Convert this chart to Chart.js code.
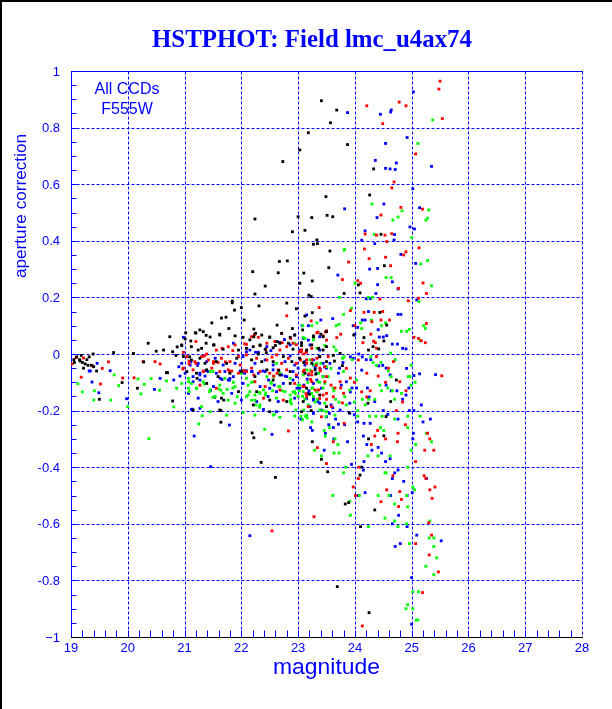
<!DOCTYPE html>
<html>
<head>
<meta charset="utf-8">
<style>
html,body{margin:0;padding:0;background:#fff;}
#wrap{width:612px;height:709px;position:relative;}
canvas{display:block;}
</style>
<script src="https://cdn.jsdelivr.net/npm/chart.js@4.4.1/dist/chart.umd.min.js"></script>
</head>
<body>
<div id="wrap"><canvas id="c" width="612" height="709"></canvas></div>
<script>
// ---------------- data ----------------
const chartTitle = "HSTPHOT: Field lmc_u4ax74";
const xTitle = "magnitude";
const yTitle = "aperture correction";
const noteLines = ["All CCDs", "F555W"];
const xTicks = [19, 20, 21, 22, 23, 24, 25, 26, 27, 28];
const yTicks = [1, 0.8, 0.6, 0.4, 0.2, 0, -0.2, -0.4, -0.6, -0.8, -1];
const yTickLabels = ["1", "0.8", "0.6", "0.4", "0.2", "0", "-0.2", "-0.4", "-0.6", "-0.8", "\u22121"];
const xMinorStep = 0.2;
const yMinorStep = 0.05;

const blackPts = [
[23.41,0.895],[23.68,0.862],[23.57,0.817],[23.18,0.782],[23.03,0.721],[22.73,0.68],[23.87,0.74],[24.33,0.654],[23.49,0.556],[24.26,0.562],[22.24,0.477],[23.0,0.485],[23.24,0.482],[23.51,0.49],[23.61,0.485],[22.90,0.432],[23.12,0.437],[23.33,0.403],[23.27,0.388],[23.34,0.39],[24.46,0.423],
[22.81,0.329],[22.67,0.327],[22.20,0.291],[22.65,0.287],[23.10,0.286],[22.42,0.24],[23.03,0.25],[22.24,0.212],[23.19,0.208],[21.84,0.181],[22.0,0.164],[22.31,0.17],[22.80,0.18],[22.97,0.16],
[21.88,0.155],[21.65,0.127],[21.73,0.13],[21.48,0.11],[22.22,0.088],[22.25,0.073],[22.63,0.102],[23.12,0.134],[21.20,0.074],[21.27,0.085],[21.38,0.066],[21.62,0.07],[20.74,0.061],[21.01,0.053],[21.11,0.046],[21.52,0.032],[20.36,0.038],[20.87,0.025],[20.63,0.014],[20.79,0.008],[20.10,0.002],[19.75,0.005],[19.39,0.0],[19.28,-0.02],[19.25,-0.035],[19.36,-0.04],[19.40,-0.045],[19.32,-0.01],[19.06,-0.03],[22.33,0.03],[22.56,0.022],[22.6,0.03],[22.3,0.0],[22.44,0.005],[21.09,-0.01],[20.68,-0.066],[20.70,-0.066],[21.22,-0.086],[19.50,-0.16],[19.90,-0.101],[20.17,-0.121],[20.79,-0.166],[21.64,-0.241],[21.69,-0.163],[21.64,-0.20],[22.22,-0.296],[22.19,-0.279],[22.66,-0.058],[23.20,-0.142],[22.35,-0.383],[22.60,-0.436],[21.84,0.187],[20.85,-0.005],[20.28,-0.028],[19.16,-0.025],
[23.56,0.364],[23.54,0.305],[23.25,0.258],[24.06,0.244],[24.52,0.312],[23.81,0.214],[24.09,0.216],[23.23,0.203],[23.25,0.146],[23.27,0.064],[23.06,0.03],[24.16,0.058],[24.24,0.014],[24.42,0.018],[24.44,0.147],[24.32,0.026],[24.51,0.046],[24.56,0.102],[23.62,-0.005],[23.08,0.085],[23.4,0.07],[23.98,0.067],[23.78,-0.041],[24.73,-0.092],[24.63,-0.168],[24.23,-0.174],[23.90,-0.207],[23.23,-0.2],[24.55,-0.221],[23.1,-0.03],[23.31,-0.071],[23.64,-0.025],
[23.25,-0.31],[23.41,-0.372],[23.52,-0.416],[24.12,-0.40],[24.09,-0.428],[23.89,-0.525],[23.83,-0.53],[24.35,-0.551],[24.10,-0.61],[23.69,-0.822],[24.25,-0.914],[24.51,-0.289],[24.24,-0.3],
[19.1,-0.01],[19.15,-0.02],[19.2,-0.03],[19.3,-0.04],[19.45,-0.06],[19.22,-0.05],[19.18,-0.005],[19.05,-0.02],[20.5,0.01],[20.95,0.03],[21.3,0.02],[21.45,0.06],[21.78,0.09],[22.05,0.12],[22.15,0.05],[22.5,0.06],[22.9,0.09],
[21.02,0.075],[21.19,0.075],[21.33,0.079],[21.62,0.067],[21.89,0.064],[22.03,0.059],[22.22,0.061],[22.36,0.067],[22.50,0.059],[22.71,0.073],[22.86,0.059],[22.94,0.067],[23.27,0.061],[23.44,0.061],[23.50,0.079],
[20.95,0.032],[21.12,0.026],[21.24,0.014],[21.38,0.038],[21.51,0.032],[21.68,0.017],[21.95,0.014],[22.09,0.020],[22.21,0.026],[22.33,0.032],[22.42,0.017],[22.63,0.044],[22.68,0.038],[22.83,0.038],[22.91,0.017],[23.06,0.040],[23.24,0.032],[23.36,0.020],[23.44,0.014],[23.50,0.026],
[20.98,-0.009],[21.12,-0.021],[21.27,-0.015],[21.36,-0.033],[21.56,-0.027],[21.74,-0.033],[21.92,-0.015],[22.18,-0.021],[22.36,-0.027],[22.56,-0.027],[22.74,-0.009],[22.89,-0.027],[23.03,-0.015],[23.24,-0.033],[23.38,-0.009],[23.50,-0.027],
[21.04,-0.062],[21.21,-0.068],[21.39,-0.056],[21.59,-0.080],[21.80,-0.068],[22.00,-0.062],[22.24,-0.080],[22.45,-0.056],[22.68,-0.074],[22.86,-0.062],[23.12,-0.068],[23.30,-0.056],
[21.39,-0.104],[21.95,-0.133],[22.27,-0.133],[22.56,-0.092],[22.86,-0.104],[23.15,-0.121],[23.38,-0.145],
[21.65,-0.156],[22.21,-0.180],[22.50,-0.163],[22.80,-0.168],[23.09,-0.168],[23.50,-0.186],
[21.15,-0.198],[21.62,-0.198],[22.50,-0.204],[23.06,-0.204],
[23.15,0.014],[23.38,-0.010],[23.74,0.002]
];

const redPts = [
[25.50,0.964],[25.48,0.936],[24.21,0.877],[24.78,0.89],[24.90,0.877],[24.49,0.814],[25.54,0.832],[25.07,0.707],[24.69,0.608],[24.65,0.587],[24.46,0.491],[24.81,0.518],[25.19,0.512],[24.18,0.424],[24.38,0.42],[24.53,0.42],[24.65,0.425],[24.56,0.397],[24.17,0.371],[25.13,0.375],
[19.09,-0.013],[19.02,-0.035],[19.22,-0.014],[19.18,-0.082],[19.38,-0.042],[19.55,-0.051],[19.66,-0.028],[19.52,-0.106],[19.91,-0.085],[20.27,-0.027],[20.11,-0.084],[20.48,-0.027],[20.57,-0.035],[20.98,0.006],[21.08,-0.025],[21.08,-0.035],[20.97,-0.053],[21.20,-0.033],[21.35,-0.007],[21.51,-0.027],[21.66,0.02],[21.59,-0.03],[21.72,-0.028],[21.85,0.012],[21.79,-0.062],[21.98,-0.039],[22.03,-0.059],[22.09,0.034],[22.23,0.069],[22.43,0.016],[22.54,-0.011],[22.63,-0.068],[22.71,0.073],[22.72,0.04],[22.87,0.055],[22.97,0.033],[23.02,0.008],[23.04,-0.021],[23.14,0.006],[22.83,-0.272],[22.80,0.135],[22.04,-0.06],[22.22,-0.074],[22.57,-0.078],[21.83,-0.06],[21.33,-0.06],
[24.90,0.361],[24.86,0.35],[24.25,0.337],[23.89,0.325],[24.54,0.342],[24.63,0.312],[23.78,0.263],[24.05,0.259],[24.1,0.25],[24.77,0.232],[24.44,0.194],[25.20,0.251],[25.26,0.214],[25.12,0.197],[24.94,0.188],[23.92,0.153],[24.16,0.147],[24.34,0.147],[24.49,0.15],[24.30,0.114],[24.46,0.12],[24.61,0.12],[25.26,0.108],[23.37,0.164],[23.23,0.117],[23.35,0.077],[23.48,0.078],[23.68,0.058],[23.75,0.07],[24.0,0.1],[24.14,0.04],[24.28,0.07],[24.36,0.04],[25.04,0.059],[25.12,0.055],[25.17,0.047],[25.24,0.04],[23.05,0.007],[23.1,0.0],[23.25,-0.02],[23.32,-0.04],[23.39,-0.06],[23.11,-0.057],[23.19,-0.07],[23.22,-0.09],[23.11,-0.115],[23.14,-0.14],[23.47,-0.098],[23.58,-0.11],[23.65,-0.12],[23.75,-0.12],[23.44,-0.145],[23.50,-0.16],[23.78,-0.173],[23.92,-0.085],[23.99,-0.10],[24.12,-0.134],[24.21,-0.152],[24.27,-0.13],[24.41,-0.078],[24.59,-0.05],[24.54,-0.1],[24.84,-0.17],[24.9,-0.13],[24.73,-0.2],[25.53,-0.077],[24.38,0.02],[24.33,0.045],
[23.34,-0.331],[23.5,-0.387],[23.62,-0.31],[23.81,-0.245],[24.35,-0.29],[24.29,-0.32],[24.07,-0.4],[24.06,-0.44],[23.97,-0.47],[24.01,-0.5],[24.46,-0.522],[24.56,-0.48],[24.79,-0.486],[24.82,-0.514],[24.77,-0.539],[24.89,-0.25],[24.76,-0.28],[24.75,-0.31],[24.54,-0.3],[24.67,-0.43],[25.23,-0.34],[25.39,-0.34],[25.28,-0.28],[25.32,-0.3],[25.22,-0.43],[25.25,-0.44],[25.32,-0.48],[25.36,-0.51],[25.41,-0.47],[25.30,-0.596],[25.35,-0.64],[25.07,-0.67],[25.31,-0.71],[25.47,-0.77],[25.19,-0.843],[24.13,-0.961],[23.28,-0.575],[25.07,-0.38],[24.4,-0.27],
[22.54,-0.625],
[22.18,0.061],[22.30,0.059],[23.33,0.075],[23.44,0.064],[23.50,0.082],
[21.20,0.044],[21.39,0.000],[21.56,0.014],[21.77,0.026],[21.89,0.032],[22.06,0.036],[22.45,0.038],[22.59,0.044],[22.68,0.014],[22.80,0.026],[22.91,0.038],[23.06,0.014],[23.15,0.008],[23.24,0.020],[23.50,0.049],
[21.04,-0.009],[21.18,-0.027],[21.30,-0.009],[21.42,-0.021],[21.51,-0.033],[21.65,-0.015],[21.80,-0.027],[21.95,-0.009],[22.09,-0.003],[22.27,-0.015],[22.45,-0.021],[22.62,-0.003],[22.71,-0.033],[22.83,-0.015],[22.97,-0.033],[23.15,-0.021],[23.33,-0.015],[23.53,-0.009],
[20.98,-0.050],[21.15,-0.056],[21.33,-0.062],[21.48,-0.050],[21.62,-0.062],[21.77,-0.056],[21.95,-0.068],[22.09,-0.062],[22.18,-0.050],[22.33,-0.062],[22.50,-0.068],[22.65,-0.056],[22.80,-0.056],[22.97,-0.074],[23.09,-0.062],[23.24,-0.062],[23.38,-0.050],[23.50,-0.080],
[21.27,-0.110],[21.56,-0.121],[22.24,-0.098],[22.42,-0.115],[22.68,-0.127],[22.94,-0.104],[23.09,-0.115],[23.24,-0.098],[23.36,-0.127],[23.50,-0.139],
[22.39,-0.156],[22.74,-0.163],[23.15,-0.150],
[23.06,0.014],[23.15,-0.033],[23.24,-0.074],[23.09,-0.115],[23.30,-0.127],[23.38,-0.157],[23.62,-0.151],[23.74,-0.098],[23.85,-0.051],[23.47,-0.045],[23.59,-0.186],[23.80,-0.139],[23.18,-0.186],[23.41,-0.222],
[24.06,-0.021],[24.38,-0.009],[24.68,-0.027],[24.21,-0.068],[24.79,-0.098]
];

const greenPts = [
[25.37,0.827],[25.11,0.744],[24.30,0.53],[24.83,0.506],[24.76,0.484],[24.67,0.473],[25.30,0.509],[25.28,0.48],[25.25,0.473],[24.34,0.423],[25.00,0.411],[23.82,0.37],
[19.12,-0.105],[19.20,-0.134],[19.40,-0.163],[19.41,-0.13],[19.70,-0.163],[19.76,-0.074],[19.84,-0.112],[20.00,-0.186],[20.23,-0.141],[20.29,-0.107],[20.18,-0.088],[20.37,-0.299],[20.41,-0.087],[20.56,-0.128],[20.68,-0.095],[20.81,-0.187],[20.86,-0.121],[21.07,-0.098],[21.07,-0.121],[21.08,-0.133],[21.21,-0.121],[21.25,-0.247],[21.31,-0.218],[21.35,-0.106],[21.44,-0.133],[21.50,-0.062],[21.50,-0.153],[21.61,-0.124],[21.64,-0.128],[21.75,-0.125],[21.85,-0.12],[21.86,-0.1],[21.93,-0.151],[22.0,-0.068],[22.12,-0.145],[22.18,-0.1],[22.22,-0.098],[22.24,-0.163],[22.26,-0.18],[22.32,-0.136],[22.39,-0.127],[22.43,-0.138],[22.52,-0.1],[22.57,-0.08],[22.55,-0.13],[22.58,-0.213],[22.66,-0.115],[22.72,-0.13],[22.87,-0.16],[22.88,-0.176],[22.91,-0.134],[22.95,-0.14],[22.96,-0.198],[23.02,-0.13],[23.03,-0.11],[23.08,-0.233],[23.16,-0.226],[22.41,-0.266],[22.32,-0.188],
[23.81,0.367],[25.35,0.241],[25.13,0.185],[25.16,0.318],[25.28,0.33],[24.55,0.27],[24.64,0.27],[23.73,0.2],[24.24,0.2],[24.31,0.2],[24.0,0.25],[23.94,0.161],[23.8,0.14],[23.72,0.105],[23.67,0.1],[24.1,0.11],[24.12,0.09],[24.29,0.12],[24.47,0.1],[24.54,0.11],[24.63,0.003],[24.82,0.08],[24.91,0.08],[24.96,0.087],[25.15,0.047],[25.24,0.09],[25.21,0.1],[23.08,0.1],[23.24,0.1],[23.33,0.11],[23.27,0.05],[23.33,0.02],[23.47,0.03],[23.63,0.025],[23.67,0.013],
[23.21,-0.021],[23.28,-0.039],[23.40,-0.033],[23.50,-0.045],[23.58,-0.051],[23.78,-0.015],[23.81,-0.01],[23.95,-0.02],[24.28,-0.01],[24.32,-0.03],[24.38,-0.04],[24.46,-0.03],[24.71,-0.02],[24.59,-0.06],[24.64,-0.08],[24.99,-0.04],[24.97,-0.08],[25.06,-0.1],[24.99,-0.11],[23.17,-0.1],[23.26,-0.12],[23.38,-0.1],[23.44,-0.12],[23.08,-0.15],[23.12,-0.16],[23.3,-0.17],[23.34,-0.16],[23.44,-0.2],[23.49,-0.22],[23.66,-0.16],[23.72,-0.17],[23.63,-0.13],[23.85,-0.18],[23.99,-0.17],[24.05,-0.2],[24.13,-0.16],[24.24,-0.16],[24.35,-0.16],[24.47,-0.13],[24.58,-0.12],[24.66,-0.13],[24.7,-0.16],[24.37,-0.22],[24.48,-0.22],[24.7,-0.23],[25.15,-0.22],
[23.05,-0.22],[23.13,-0.22],[23.24,-0.24],[23.46,-0.27],[23.55,-0.26],[23.48,-0.29],[23.65,-0.3],[23.7,-0.32],[23.29,-0.34],[23.41,-0.36],[23.63,-0.35],[23.72,-0.35],[23.84,-0.4],[23.8,-0.42],[23.61,-0.5],[23.91,-0.52],[23.92,-0.57],[24.05,-0.22],[24.26,-0.22],[24.45,-0.26],[24.51,-0.27],[24.23,-0.36],[24.41,-0.36],[24.62,-0.36],[24.08,-0.5],[24.41,-0.5],[24.6,-0.5],[24.53,-0.42],[24.55,-0.42],[24.7,-0.53],[24.53,-0.58],[24.7,-0.59],[24.76,-0.61],[24.91,-0.6],[24.24,-0.61],[24.91,-0.5],[24.93,-0.54],[25.02,-0.47],[25.05,-0.48],[24.96,-0.67],[25.31,-0.65],[25.39,-0.65],[25.32,-0.59],[25.39,-0.68],[25.44,-0.72],[25.25,-0.75],[25.39,-0.78],[25.02,-0.84],[25.12,-0.84],[25.02,-0.9],[24.9,-0.9],[25.08,-0.94],[24.93,-0.22],[24.93,-0.26],[24.99,-0.34],[25.07,-0.32],[25.26,-0.28],[25.35,-0.31],[24.93,-0.4],
[24.93,-0.886],[25.11,-0.94],
[23.09,0.059],[23.27,0.059],[22.94,0.038],[23.12,0.055],[22.62,-0.033],[23.33,-0.033],
[21.07,-0.086],[21.45,-0.062],[21.71,-0.086],[22.09,-0.086],[22.45,-0.080],[22.68,-0.068],[22.86,-0.086],[23.15,-0.056],[23.36,-0.068],[23.44,-0.080],
[20.95,-0.104],[21.12,-0.104],[21.21,-0.121],[21.33,-0.098],[21.45,-0.127],[21.62,-0.110],[21.68,-0.139],[21.89,-0.115],[22.12,-0.110],[22.15,-0.133],[22.24,-0.145],[22.33,-0.139],[22.42,-0.145],[22.53,-0.104],[22.68,-0.115],[22.77,-0.133],[22.86,-0.145],[22.94,-0.133],[23.00,-0.110],[23.09,-0.133],[23.24,-0.121],[23.33,-0.133],[23.47,-0.104],
[21.30,-0.186],[21.54,-0.150],[21.77,-0.163],[21.89,-0.174],[22.09,-0.150],[22.18,-0.163],[22.33,-0.180],[22.62,-0.156],[22.86,-0.168],[23.00,-0.150],[23.18,-0.180],[23.27,-0.150],[23.47,-0.174],
[21.45,-0.204],[21.74,-0.216],[22.03,-0.207],[22.24,-0.216],[22.56,-0.216],[22.68,-0.224],[22.94,-0.219],[23.15,-0.216],[23.50,-0.204],
[23.09,-0.074],[23.21,-0.057],[23.35,-0.098],[23.53,-0.080],[23.62,-0.121],[23.82,-0.151],[23.24,-0.139],[23.10,-0.198],[23.38,-0.198],[23.65,-0.216],[23.91,-0.127],[23.80,-0.062],
[24.03,-0.092],[24.44,-0.110],[24.82,-0.139],[24.18,-0.180],[24.94,-0.080]
];

const bluePts = [
[23.87,0.853],[24.45,0.847],[24.64,0.862],[24.63,0.855],[25.03,0.926],[24.92,0.765],[24.54,0.744],[24.36,0.684],[24.54,0.656],[24.73,0.675],[24.62,0.654],[24.71,0.652],[25.35,0.663],[25.02,0.584],[23.82,0.513],[24.51,0.53],[24.39,0.482],[25.14,0.517],[24.97,0.449],[25.05,0.442],[24.18,0.435],[24.70,0.422],[24.69,0.403],[24.12,0.402],[24.35,0.39],
[19.32,-0.06],[19.34,-0.06],[19.37,-0.099],[19.49,-0.137],[19.46,-0.033],[19.69,-0.059],[19.98,-0.158],[20.47,-0.125],[20.57,-0.086],[20.81,-0.092],[20.92,-0.078],[20.90,-0.045],[21.11,-0.027],[21.15,-0.098],[21.14,-0.195],[21.23,-0.04],[21.27,-0.074],[21.38,-0.059],[21.36,-0.078],[21.46,-0.128],[21.53,-0.153],[21.63,-0.086],[21.66,-0.09],[21.79,-0.092],[21.8,-0.086],[22.02,-0.065],[22.09,-0.059],[22.19,-0.062],[22.09,0.008],[22.25,0.006],[22.3,0.006],[22.52,0.012],[22.48,-0.092],[22.58,-0.11],[22.77,-0.078],[22.86,-0.007],[22.97,-0.08],[22.98,-0.121],[23.16,-0.089],[23.09,0.055],[22.76,0.051],[22.67,0.041],[22.54,-0.284],[21.79,-0.251],[21.17,-0.29],[21.46,-0.398],[21.98,-0.06],[22.38,-0.06],
[24.81,0.352],[25.07,0.32],[24.40,0.302],[24.26,0.30],[24.66,0.255],[24.76,0.23],[23.70,0.279],[24.37,0.214],[24.4,0.245],[24.2,0.195],[24.27,0.196],[25.09,0.191],[24.76,0.14],[24.81,0.14],[24.24,0.15],[24.05,0.094],[24.13,0.12],[24.18,0.12],[23.97,0.1],[24.0,0.07],[23.15,0.138],[23.07,0.1],[23.18,0.1],[23.40,0.12],[23.61,0.125],[24.41,0.086],[24.43,0.06],[24.5,0.06],[24.56,0.065],[24.66,0.035],[24.75,0.035],[24.84,0.02],[24.9,0.018],[24.42,-0.042],[24.49,-0.04],[24.55,-0.05],[24.2,-0.02],[24.28,-0.02],[24.07,0.0],[24.13,-0.01],[23.92,-0.01],[23.97,-0.015],[23.73,-0.05],[23.79,-0.03],[23.3,-0.048],[23.47,-0.046],[23.39,-0.055],[23.1,-0.11],[23.19,-0.13],[23.27,-0.157],[23.21,-0.186],[23.58,-0.18],[23.61,-0.19],[23.55,-0.21],[23.76,-0.11],[23.92,-0.134],[23.95,-0.12],[24.03,-0.12],[24.22,-0.12],[24.25,-0.152],[24.55,-0.11],[24.64,-0.13],[24.74,-0.13],[24.95,-0.12],[25.04,-0.076],[25.14,-0.07],[25.42,-0.073],[24.84,-0.16],[24.9,-0.145],[24.96,-0.2],[25.04,-0.2],[25.17,-0.18],[23.91,-0.21],[23.99,-0.215],[23.66,-0.23],[24.5,-0.2],[24.58,-0.213],
[23.05,-0.23],[23.25,-0.27],[23.22,-0.26],[23.62,-0.26],[23.71,-0.248],[23.82,-0.25],[23.46,-0.34],[23.63,-0.3],[23.87,-0.31],[23.94,-0.39],[24.15,-0.41],[24.16,-0.38],[24.05,-0.24],[24.16,-0.245],[24.27,-0.245],[24.15,-0.29],[24.21,-0.32],[24.3,-0.34],[24.41,-0.33],[24.47,-0.35],[24.54,-0.38],[24.62,-0.37],[24.7,-0.42],[24.76,-0.41],[24.66,-0.44],[24.86,-0.45],[24.92,-0.5],[25.01,-0.49],[24.06,-0.5],[24.18,-0.49],[24.63,-0.5],[24.77,-0.57],[24.66,-0.6],[24.92,-0.61],[25.09,-0.64],[24.8,-0.67],[24.71,-0.68],[25.52,-0.66],[25.26,-0.44],[25.33,-0.23],[25.2,-0.24],[25.03,-0.28],[25.02,-0.3],[24.76,-0.23],[25.0,-0.79],[25.0,-0.955],[23.48,-0.28],[23.54,-0.25],
[22.15,-0.642],
[20.98,0.059],[22.94,0.067],[23.18,0.049],[23.38,0.061],
[21.86,0.038],[22.15,0.014],[22.45,0.026],[22.86,0.032],[23.03,0.014],[23.21,0.032],[23.38,0.014],
[20.95,-0.033],[21.10,-0.039],[21.24,-0.033],[21.39,-0.027],[21.54,-0.015],[21.68,-0.039],[21.89,-0.033],[22.03,-0.009],[22.24,-0.033],[22.42,-0.021],[22.56,-0.039],[22.77,-0.027],[22.94,-0.039],[23.12,-0.027],[23.27,-0.039],[23.44,-0.033],
[21.01,-0.068],[21.15,-0.080],[21.27,-0.068],[21.42,-0.062],[21.56,-0.068],[21.71,-0.062],[21.86,-0.080],[22.06,-0.068],[22.18,-0.062],[22.30,-0.068],[22.42,-0.062],[22.56,-0.056],[22.71,-0.074],[22.80,-0.080],[22.91,-0.062],[23.00,-0.050],[23.18,-0.074],[23.33,-0.068],[23.50,-0.050],
[21.07,-0.139],[21.27,-0.092],[21.51,-0.115],[21.77,-0.092],[21.83,-0.139],[22.03,-0.104],[22.33,-0.115],[22.50,-0.121],[22.62,-0.133],[22.74,-0.104],[22.91,-0.092],[23.03,-0.121],[23.18,-0.139],[23.27,-0.104],[23.41,-0.121],
[21.24,-0.156],[21.59,-0.168],[22.00,-0.163],[22.27,-0.168],[22.47,-0.150],[22.65,-0.168],[22.94,-0.156],[23.27,-0.163],[23.38,-0.174],
[21.12,-0.196],[21.27,-0.192],[22.39,-0.196],[22.62,-0.204],[23.27,-0.210],[23.41,-0.198],
[23.12,-0.039],[23.27,-0.021],[23.33,-0.092],[23.44,-0.080],[23.56,-0.033],[23.71,-0.068],[23.85,-0.098],[23.15,-0.157],[23.35,-0.168],[23.74,-0.198],[23.91,-0.174],[23.50,-0.222],
[24.12,-0.057],[24.62,-0.074],[24.91,-0.051],[24.35,-0.168]
];

// ---------------- chart ----------------
const BLUE = '#0000ff';
const toXY = pts => pts.map(p => ({x: p[0], y: p[1]}));

function mkSet(label, pts, color) {
  return {
    label: label,
    data: toXY(pts),
    backgroundColor: color,
    borderColor: color,
    borderWidth: 0,
    pointStyle: 'rect',
    pointRadius: 2,
    pointHoverRadius: 2
  };
}

// pick a font size so that the text spans the wanted width
function fitFont(ctx, text, target, tpl, guess) {
  ctx.font = tpl.replace('SZ', guess + 'px');
  const w = ctx.measureText(text).width;
  const sz = guess * target / w;
  ctx.font = tpl.replace('SZ', sz.toFixed(2) + 'px');
}

const decor = {
  id: 'decor',
  beforeDraw(chart) {
    const ctx = chart.ctx;
    ctx.save();
    ctx.fillStyle = '#ffffff';
    ctx.fillRect(0, 0, chart.width, chart.height);
    ctx.fillStyle = '#000000';
    ctx.fillRect(0, 0, chart.width, 2);
    ctx.fillRect(0, 0, 2, chart.height);
    ctx.restore();
  },
  beforeDatasetsDraw(chart) {
    const ctx = chart.ctx, a = chart.chartArea, xs = chart.scales.x, ys = chart.scales.y;
    const L = Math.round(a.left) + 0.5, R = Math.round(a.right) + 0.5;
    const T = Math.round(a.top) + 0.5, B = Math.round(a.bottom) + 0.5;
    const line = (x1, y1, x2, y2) => { ctx.beginPath(); ctx.moveTo(x1, y1); ctx.lineTo(x2, y2); ctx.stroke(); };
    ctx.save();
    ctx.strokeStyle = BLUE;
    ctx.lineWidth = 1;
    ctx.setLineDash([3, 2]);
    xTicks.forEach(v => {
      if (v > xs.min && v < xs.max) {
        const px = Math.round(xs.getPixelForValue(v)) + 0.5;
        line(px, T, px, B);
      }
    });
    yTicks.forEach(v => {
      if (v > ys.min && v < ys.max) {
        const py = Math.round(ys.getPixelForValue(v)) + 0.5;
        line(L, py, R, py);
      }
    });
    line(R, T, R, B);
    ctx.setLineDash([]);
    line(L - 0.5, T, R + 0.5, T);
    line(L, T, L, B);
    const nx = Math.round((xs.max - xs.min) / xMinorStep);
    for (let i = 1; i < nx; i++) {
      const px = Math.round(xs.getPixelForValue(xs.min + i * xMinorStep)) + 0.5;
      line(px, B, px, B - 7);
    }
    const ny = Math.round((ys.max - ys.min) / yMinorStep);
    for (let i = 1; i < ny; i++) {
      const py = Math.round(ys.getPixelForValue(ys.min + i * yMinorStep)) + 0.5;
      line(L, py, L + 5, py);
    }
    ctx.strokeStyle = '#000000';
    line(L - 0.5, B, R + 0.5, B);
    ctx.restore();
  },
  afterDraw(chart) {
    const ctx = chart.ctx, a = chart.chartArea, xs = chart.scales.x, ys = chart.scales.y;
    ctx.save();
    ctx.fillStyle = BLUE;
    fitFont(ctx, chartTitle, 320, 'bold SZ "Liberation Serif", "Times New Roman", serif', 25);
    ctx.textAlign = 'center';
    ctx.textBaseline = 'alphabetic';
    ctx.fillText(chartTitle, 312, 47);
    ctx.font = '13px "Liberation Sans", Arial, sans-serif';
    ctx.textAlign = 'center';
    ctx.textBaseline = 'alphabetic';
    xTicks.forEach(v => {
      ctx.fillText(String(v), xs.getPixelForValue(v), a.bottom + 15);
    });
    ctx.textAlign = 'right';
    ctx.textBaseline = 'middle';
    yTicks.forEach((v, i) => {
      ctx.fillText(yTickLabels[i], a.left - 11, ys.getPixelForValue(v) + 1);
    });
    fitFont(ctx, xTitle, 107, 'SZ "Liberation Sans", Arial, sans-serif', 22);
    ctx.textAlign = 'center';
    ctx.textBaseline = 'alphabetic';
    ctx.fillText(xTitle, (a.left + a.right) / 2, 674);
    ctx.save();
    fitFont(ctx, yTitle, 144, 'SZ "Liberation Sans", Arial, sans-serif', 17);
    ctx.translate(26, 278);
    ctx.rotate(-Math.PI / 2);
    ctx.textAlign = 'left';
    ctx.fillText(yTitle, 0, 0);
    ctx.restore();
    ctx.font = '16px "Liberation Sans", Arial, sans-serif';
    ctx.textAlign = 'center';
    ctx.fillText(noteLines[0], 127, 94);
    ctx.fillText(noteLines[1], 127, 114);
    ctx.restore();
  }
};

new Chart(document.getElementById('c'), {
  type: 'scatter',
  data: {
    datasets: [
      mkSet('black', blackPts, '#000000'),
      mkSet('red', redPts, '#ff0000'),
      mkSet('green', greenPts, '#00ff00'),
      mkSet('blue', bluePts, '#0000ff')
    ]
  },
  options: {
    responsive: false,
    animation: false,
    devicePixelRatio: 1,
    layout: { padding: { left: 71, top: 71, right: 30, bottom: 72 } },
    plugins: { legend: { display: false }, tooltip: { enabled: false }, title: { display: false } },
    scales: {
      x: { type: 'linear', display: false, min: xTicks[0], max: xTicks[xTicks.length - 1] },
      y: { type: 'linear', display: false, min: yTicks[yTicks.length - 1], max: yTicks[0] }
    }
  },
  plugins: [decor]
});
</script>
</body>
</html>
